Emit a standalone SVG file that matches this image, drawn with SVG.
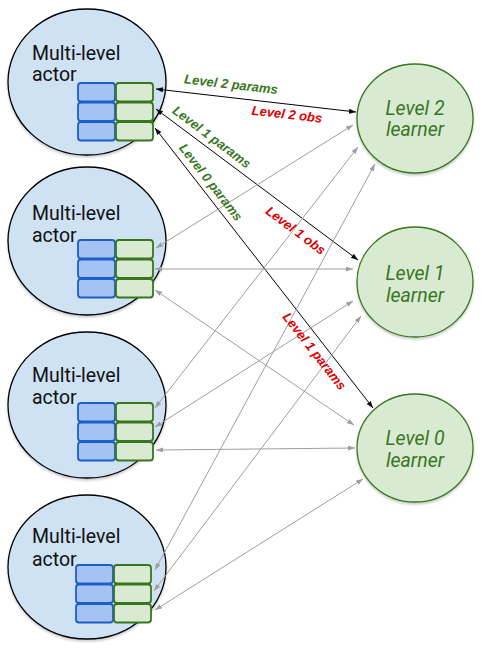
<svg xmlns="http://www.w3.org/2000/svg" width="491" height="659" viewBox="0 0 491 659">
<style>
.actor{fill:#cfe2f3;stroke:#000;stroke-width:1.3}
.learner{fill:#d9ead3;stroke:#38761d;stroke-width:1.3}
.blue{fill:#a4c2f4;stroke:#1c5fc4;stroke-width:1.8}
.green{fill:#d9ead3;stroke:#38761d;stroke-width:1.8}
.atext{font-family:Roboto,"Liberation Sans",sans-serif;font-size:19.5px;fill:#111}
.ltext{font-family:Roboto,"Liberation Sans",sans-serif;font-size:19.5px;font-style:italic;fill:#38761d;text-anchor:middle}
.blk{stroke:#000;stroke-width:1;fill:none;marker-start:url(#ab);marker-end:url(#ab)}
.gry{stroke:#9e9e9e;stroke-width:1;fill:none;marker-start:url(#ag);marker-end:url(#ag)}
.lbl{font-family:"Liberation Sans",Arial,sans-serif;font-size:13px;font-weight:bold;font-style:italic;text-anchor:middle}
.gl{fill:#38761d}
.rl{fill:#dd0000}
</style>
<defs>
<marker id="ab" markerUnits="userSpaceOnUse" markerWidth="8" markerHeight="6" refX="7" refY="2.5" orient="auto-start-reverse"><path d="M0,0 L7,2.5 L0,5 z" fill="#000"/></marker>
<marker id="ag" markerUnits="userSpaceOnUse" markerWidth="8" markerHeight="6" refX="7" refY="2.5" orient="auto-start-reverse"><path d="M0,0 L7,2.5 L0,5 z" fill="#9e9e9e"/></marker>
<filter id="sh" x="-10%" y="-10%" width="120%" height="125%"><feDropShadow dx="0" dy="2" stdDeviation="1.2" flood-color="#000" flood-opacity="0.2"/></filter>
</defs>
<g id="actor1">
<ellipse class="actor" cx="87" cy="82" rx="79" ry="73" filter="url(#sh)"/>
<text class="atext" x="32" y="60">Multi-level</text>
<text class="atext" x="32" y="81">actor</text>
<rect class="blue" x="78" y="83" width="37" height="18.5" rx="3"/>
<rect class="blue" x="78" y="102.5" width="37" height="18.5" rx="3"/>
<rect class="blue" x="78" y="122" width="37" height="18.5" rx="3"/>
<rect class="green" x="116" y="83" width="37" height="18.5" rx="3"/>
<rect class="green" x="116" y="102.5" width="37" height="18.5" rx="3"/>
<rect class="green" x="116" y="122" width="37" height="18.5" rx="3"/>
</g>
<g id="actor2">
<ellipse class="actor" cx="87" cy="241" rx="79" ry="74" filter="url(#sh)"/>
<text class="atext" x="32" y="220">Multi-level</text>
<text class="atext" x="32" y="242">actor</text>
<rect class="blue" x="78" y="240" width="37" height="18.5" rx="3"/>
<rect class="blue" x="78" y="259.5" width="37" height="18.5" rx="3"/>
<rect class="blue" x="78" y="279" width="37" height="18.5" rx="3"/>
<rect class="green" x="116" y="240" width="37" height="18.5" rx="3"/>
<rect class="green" x="116" y="259.5" width="37" height="18.5" rx="3"/>
<rect class="green" x="116" y="279" width="37" height="18.5" rx="3"/>
</g>
<g id="actor3">
<ellipse class="actor" cx="87" cy="405" rx="79" ry="73" filter="url(#sh)"/>
<text class="atext" x="32" y="382">Multi-level</text>
<text class="atext" x="32" y="404">actor</text>
<rect class="blue" x="78" y="403" width="37" height="18.5" rx="3"/>
<rect class="blue" x="78" y="422.5" width="37" height="18.5" rx="3"/>
<rect class="blue" x="78" y="442" width="37" height="18.5" rx="3"/>
<rect class="green" x="116" y="403" width="37" height="18.5" rx="3"/>
<rect class="green" x="116" y="422.5" width="37" height="18.5" rx="3"/>
<rect class="green" x="116" y="442" width="37" height="18.5" rx="3"/>
</g>
<g id="actor4">
<ellipse class="actor" cx="87" cy="567" rx="79" ry="72" filter="url(#sh)"/>
<text class="atext" x="32" y="543">Multi-level</text>
<text class="atext" x="32" y="566">actor</text>
<rect class="blue" x="76" y="565" width="37" height="18.5" rx="3"/>
<rect class="blue" x="76" y="584.5" width="37" height="18.5" rx="3"/>
<rect class="blue" x="76" y="604" width="37" height="18.5" rx="3"/>
<rect class="green" x="114" y="565" width="37" height="18.5" rx="3"/>
<rect class="green" x="114" y="584.5" width="37" height="18.5" rx="3"/>
<rect class="green" x="114" y="604" width="37" height="18.5" rx="3"/>
</g>
<g id="learner2">
<ellipse class="learner" cx="415" cy="118.5" rx="58" ry="54.5" filter="url(#sh)"/>
<text class="ltext" x="415" y="115">Level 2</text>
<text class="ltext" x="415" y="136">learner</text>
</g>
<g id="learner1">
<ellipse class="learner" cx="415" cy="282" rx="58" ry="55" filter="url(#sh)"/>
<text class="ltext" x="415" y="280">Level 1</text>
<text class="ltext" x="415" y="302">learner</text>
</g>
<g id="learner0">
<ellipse class="learner" cx="415" cy="448" rx="58" ry="54" filter="url(#sh)"/>
<text class="ltext" x="415" y="445">Level 0</text>
<text class="ltext" x="415" y="467">learner</text>
</g>
<g id="connectors">
<line class="blk" x1="156" y1="89" x2="356" y2="112"/>
<line class="blk" x1="156" y1="109" x2="358" y2="260"/>
<line class="blk" x1="155" y1="128" x2="373" y2="408"/>
<line class="gry" x1="156" y1="248" x2="353" y2="125"/>
<line class="gry" x1="155" y1="269" x2="353" y2="269"/>
<line class="gry" x1="155" y1="290" x2="354" y2="425"/>
<line class="gry" x1="155" y1="408" x2="358" y2="147"/>
<line class="gry" x1="155" y1="427" x2="353" y2="301"/>
<line class="gry" x1="156" y1="450" x2="355" y2="448"/>
<line class="gry" x1="155" y1="570" x2="375" y2="164"/>
<line class="gry" x1="154" y1="591" x2="361" y2="316"/>
<line class="gry" x1="155" y1="610" x2="363" y2="479"/>
<text class="lbl gl" transform="translate(230.5,88.7) rotate(6.6)">Level 2 params</text>
<text class="lbl rl" transform="translate(286.5,118.7) rotate(6.6)">Level 2 obs</text>
<text class="lbl gl" transform="translate(209,140.5) rotate(37)">Level 1 params</text>
<text class="lbl gl" transform="translate(207.3,185) rotate(52)">Level 0 params</text>
<text class="lbl rl" transform="translate(293,234) rotate(37)">Level 1 obs</text>
<text class="lbl rl" transform="translate(311,354) rotate(52)">Level 1 params</text>
</g>
</svg>
